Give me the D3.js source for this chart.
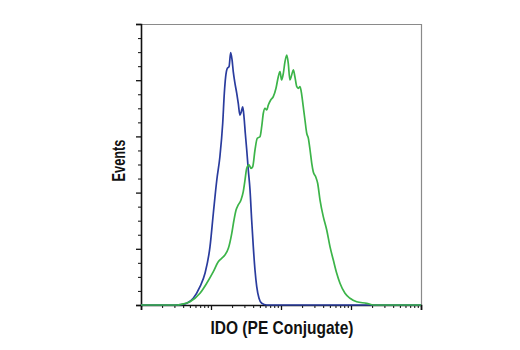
<!DOCTYPE html>
<html>
<head>
<meta charset="utf-8">
<script src="https://cdn.jsdelivr.net/npm/d3@7"></script>
<style>
html,body{margin:0;padding:0;background:#fff;}
svg{display:block;}
</style>
</head>
<body>
<svg id="chart" width="520" height="350"></svg>
<script>
// ---- data (fluorescence intensity, event count) ----
const xLabel = "IDO (PE Conjugate)";
const yLabel = "Events";
const xDomain = [1, 10000];
const yDomain = [0, 250];
const yMajorTicks = [0, 50, 100, 150, 200, 250];
const yMinorTicks = [12.5, 25, 37.5, 62.5, 75, 87.5, 112.5, 125, 137.5, 162.5, 175, 187.5, 212.5, 225, 237.5];

const controlX = [1, 3.0, 3.9, 4.5, 5.58, 6.96, 8.21, 9.68, 10.8, 12.1, 13.4, 14.7, 15.5, 16.2, 17.1, 18.1, 19.1, 20.0, 20.8, 22.0, 23.3, 24.5, 25.9, 27.1, 28.4, 29.6, 30.9, 32.4, 34.1, 36.1, 38.1, 40.2, 42.5, 45.0, 48.5, 53.0, 62.5, 10000];
const controlY = [0, 0, 0.5, 1.5, 6.0, 16.3, 28.2, 51.9, 81.6, 111.2, 131.9, 161.7, 188.4, 203.1, 210.6, 212.0, 224.5, 218.0, 207.6, 197.2, 188.4, 179.5, 169.0, 172.0, 176.4, 167.5, 152.8, 137.9, 120.1, 102.3, 75.6, 51.9, 31.1, 16.3, 6.0, 1.5, 0, 0];

const sampleX = [1, 3.3, 3.8, 5.01, 6.96, 8.68, 10.8, 12.7, 14.2, 15.8, 17.7, 19.8, 21.3, 22.8, 24.5, 26.8, 28.9, 30.6, 32.4, 34.9, 37.3, 39.4, 42.5, 45.8, 50.1, 53.0, 55.9, 59.1, 62.5, 65.9, 71.3, 77.6, 84.8, 91.5, 96.8, 102, 108, 114, 121, 127, 134, 142, 150, 158, 168, 177, 187, 198, 208, 220, 233, 246, 260, 275, 289, 313, 334, 361, 402, 450, 501, 559, 625, 696, 821, 968, 1206, 1676, 2100, 10000];
const sampleY = [0, 0, 0.6, 2.9, 10.4, 19.3, 29.6, 38.5, 41.5, 44.5, 50.4, 63.8, 75.6, 84.5, 89.0, 93.4, 100.8, 111.2, 121.6, 124.6, 121.6, 123.0, 137.9, 148.3, 149.7, 158.6, 170.6, 175.0, 173.5, 177.9, 182.4, 185.3, 192.8, 203.1, 207.6, 200.2, 206.1, 216.5, 222.4, 215.0, 200.2, 204.6, 209.1, 203.1, 194.2, 192.8, 194.2, 186.8, 176.4, 164.6, 152.8, 148.3, 137.9, 126.1, 118.6, 114.1, 108.3, 93.4, 78.6, 66.7, 51.9, 40.0, 28.2, 19.3, 10.4, 6.0, 2.9, 1.5, 0, 0];

// ---- layout ----
const svg = d3.select("#chart");
const m = {left: 141, top: 24, right: 422, bottom: 305};

const x = d3.scaleLog().domain(xDomain).range([m.left, m.right - 1]);
const y = d3.scaleLinear().domain(yDomain).range([m.bottom, m.top]);

// frame: top and right gray borders
svg.append("line").attr("x1", m.left - 5).attr("x2", m.right).attr("y1", m.top + 0.5).attr("y2", m.top + 0.5)
  .attr("stroke", "#8a8a8a").attr("stroke-width", 1.2);
svg.append("line").attr("x1", m.right - 0.5).attr("x2", m.right - 0.5).attr("y1", m.top).attr("y2", m.bottom)
  .attr("stroke", "#8a8a8a").attr("stroke-width", 1.2);

// y axis
const yMajor = d3.axisLeft(y).tickValues(yMajorTicks).tickSize(5).tickFormat("");
const yMinor = d3.axisLeft(y).tickValues(yMinorTicks).tickSize(3).tickFormat("");
svg.append("g").attr("transform", `translate(${m.left},0)`).call(yMinor)
  .call(g => g.select(".domain").remove())
  .selectAll("line").attr("stroke", "#222").attr("stroke-width", 1.1);
svg.append("g").attr("transform", `translate(${m.left},0)`).call(yMajor)
  .call(g => g.select(".domain").attr("stroke", "#111").attr("stroke-width", 1.6))
  .selectAll(".tick line").attr("stroke", "#111").attr("stroke-width", 1.3);

// x axis (log)
const xMajorVals = [1, 10, 100, 1000, 10000];
const xMinorVals = [];
for (let d = 1; d < 10000; d *= 10) for (let k = 2; k <= 9; k++) xMinorVals.push(d * k);
const xMajor = d3.axisBottom(x).tickValues(xMajorVals).tickSize(5).tickFormat("");
const xMinor = d3.axisBottom(x).tickValues(xMinorVals).tickSize(3).tickFormat("");
svg.append("g").attr("transform", `translate(0,${m.bottom})`).call(xMinor)
  .call(g => g.select(".domain").remove())
  .selectAll("line").attr("stroke", "#222").attr("stroke-width", 1.1);
svg.append("g").attr("transform", `translate(0,${m.bottom})`).call(xMajor)
  .call(g => g.select(".domain").attr("stroke", "#111").attr("stroke-width", 1.6))
  .selectAll(".tick line").attr("stroke", "#111").attr("stroke-width", 1.3);

// curves
const line = d3.line().x(d => x(d[0])).y(d => y(d[1])).curve(d3.curveMonotoneX);
const control = d3.zip(controlX, controlY);
const sample = d3.zip(sampleX, sampleY);
svg.append("path").datum(control).attr("d", line).attr("fill", "none")
  .attr("stroke", "#2a3c9e").attr("stroke-width", 1.7).attr("stroke-linejoin", "round");
svg.append("path").datum(sample).attr("d", line).attr("fill", "none")
  .attr("stroke", "#3cb449").attr("stroke-width", 1.7).attr("stroke-linejoin", "round");

// labels
const font = "'Liberation Sans Narrow','Arial Narrow','Liberation Sans',Arial,sans-serif";
svg.append("text").text(xLabel).attr("x", 282).attr("y", 334)
  .attr("text-anchor", "middle").attr("font-family", font).attr("font-weight", "bold")
  .attr("font-size", 19).attr("fill", "#111")
  .attr("textLength", 143).attr("lengthAdjust", "spacingAndGlyphs");
svg.append("text").text(yLabel).attr("transform", "translate(124.5,160.5) rotate(-90)")
  .attr("text-anchor", "middle").attr("font-family", font).attr("font-weight", "bold")
  .attr("font-size", 18.5).attr("fill", "#111")
  .attr("textLength", 42).attr("lengthAdjust", "spacingAndGlyphs");
</script>
</body>
</html>
